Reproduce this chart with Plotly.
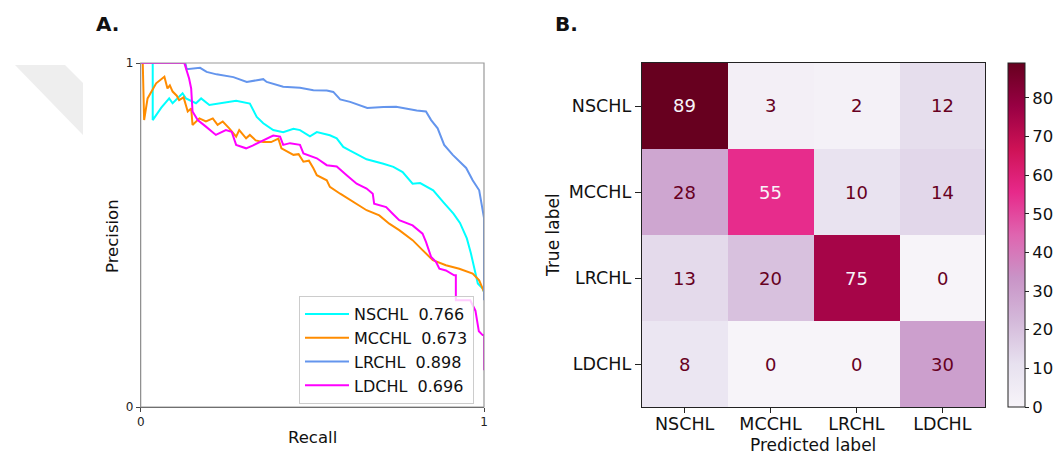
import plotly.graph_objects as go

# page body has an 8px margin; the figure is sized to the visible area
OFF = 8
W, H = 1061 - OFF, 453 - OFF

# ---------------- data ----------------
labels = ["NSCHL", "MCCHL", "LRCHL", "LDCHL"]
ap_scores = ["0.766", "0.673", "0.898", "0.696"]
line_colors = ["#00ffff", "#ff8c00", "#6495ed", "#ff00ff"]

nschl_recall = [0, 0.035, 0.035, 0.06, 0.083, 0.093, 0.122, 0.132, 0.161, 0.176, 0.2, 0.239, 0.278, 0.318,
                0.338, 0.357, 0.386, 0.415, 0.445, 0.464, 0.493, 0.513, 0.551, 0.571, 0.59, 0.61, 0.658,
                0.707, 0.736, 0.763, 0.792, 0.814, 0.852, 0.882, 0.911, 0.93, 0.95, 0.962, 0.972, 0.982,
                0.996, 1.0]
nschl_precision = [1, 1, 0.834, 0.87, 0.897, 0.883, 0.912, 0.897, 0.883, 0.897, 0.878, 0.883, 0.89, 0.882,
                   0.843, 0.825, 0.805, 0.799, 0.809, 0.805, 0.787, 0.799, 0.79, 0.781, 0.756, 0.745, 0.72,
                   0.707, 0.698, 0.683, 0.649, 0.651, 0.63, 0.595, 0.562, 0.535, 0.49, 0.446, 0.397, 0.359,
                   0.344, 0.335]

mcchl_recall = [0, 0.006, 0.01, 0.02, 0.045, 0.069, 0.078, 0.085, 0.093, 0.105, 0.112, 0.125, 0.137, 0.147,
                0.151, 0.171, 0.19, 0.21, 0.224, 0.239, 0.258, 0.278, 0.287, 0.307, 0.318, 0.335, 0.357,
                0.38, 0.401, 0.41, 0.445, 0.46, 0.474, 0.49, 0.503, 0.513, 0.542, 0.551, 0.581, 0.61,
                0.629, 0.658, 0.695, 0.724, 0.753, 0.792, 0.821, 0.851, 0.889, 0.928, 0.967, 0.986, 0.996,
                1.0]
mcchl_precision = [1, 1, 0.834, 0.897, 0.941, 0.96, 0.926, 0.935, 0.917, 0.905, 0.892, 0.9, 0.859, 0.868,
                   0.82, 0.839, 0.83, 0.839, 0.82, 0.83, 0.81, 0.786, 0.805, 0.781, 0.791, 0.775, 0.77,
                   0.77, 0.78, 0.752, 0.733, 0.735, 0.713, 0.716, 0.694, 0.674, 0.659, 0.64, 0.62, 0.601,
                   0.591, 0.572, 0.557, 0.533, 0.514, 0.485, 0.456, 0.427, 0.412, 0.402, 0.388, 0.368, 0.344,
                   0.335]

lrchl_recall = [0, 0.13, 0.134, 0.173, 0.192, 0.221, 0.27, 0.309, 0.357, 0.367, 0.415, 0.464, 0.503, 0.542,
                0.561, 0.581, 0.61, 0.648, 0.66, 0.707, 0.744, 0.804, 0.831, 0.846, 0.865, 0.884, 0.909,
                0.948, 0.967, 0.986, 0.993, 1.0, 1.0, 1.0]
lrchl_precision = [1, 1, 0.982, 0.986, 0.974, 0.967, 0.959, 0.945, 0.953, 0.945, 0.931, 0.928, 0.921, 0.92,
                   0.916, 0.894, 0.887, 0.873, 0.869, 0.872, 0.873, 0.862, 0.859, 0.834, 0.81, 0.762, 0.733,
                   0.695, 0.659, 0.63, 0.592, 0.55, 0.51, 0.31]

ldchl_recall = [0, 0.127, 0.141, 0.147, 0.151, 0.166, 0.19, 0.219, 0.248, 0.265, 0.278, 0.307, 0.326, 0.357,
                0.386, 0.406, 0.415, 0.435, 0.464, 0.474, 0.513, 0.542, 0.571, 0.6, 0.629, 0.658, 0.676,
                0.68, 0.715, 0.734, 0.753, 0.792, 0.821, 0.831, 0.846, 0.86, 0.87, 0.889, 0.913, 0.918,
                0.918, 0.96, 0.975, 0.985, 0.996, 1.0, 1.0]
ldchl_precision = [1, 1, 0.955, 0.926, 0.859, 0.834, 0.815, 0.791, 0.805, 0.8, 0.762, 0.752, 0.76, 0.776,
                   0.789, 0.786, 0.762, 0.767, 0.762, 0.737, 0.723, 0.703, 0.699, 0.674, 0.649, 0.635, 0.62,
                   0.591, 0.581, 0.562, 0.543, 0.528, 0.504, 0.48, 0.436, 0.422, 0.402, 0.397, 0.383, 0.383,
                   0.31, 0.31, 0.28, 0.22, 0.209, 0.209, 0.107]

recalls = [nschl_recall, mcchl_recall, lrchl_recall, ldchl_recall]
precisions = [nschl_precision, mcchl_precision, lrchl_precision, ldchl_precision]

cm_true = ["NSCHL", "MCCHL", "LRCHL", "LDCHL"]
cm_pred = ["NSCHL", "MCCHL", "LRCHL", "LDCHL"]
cm_values = [[89, 3, 2, 12],
             [28, 55, 10, 14],
             [13, 20, 75, 0],
             [8, 0, 0, 30]]
cbar_ticks = [0, 10, 20, 30, 40, 50, 60, 70, 80]

# ---------------- geometry helpers (reference-pixel -> paper) ----------------
def px(x):
    return (x - OFF) / W

def py(y):
    return 1 - (y - OFF) / H

FONT = "DejaVu Sans"
L_X0, L_X1 = 140.7, 484.0
R_X0, R_X1 = 641.7, 985.3
Y_TOP, Y_BOT = 63.0, 407.0

fig = go.Figure()

for name, score, col, rx, pr in zip(labels, ap_scores, line_colors, recalls, precisions):
    fig.add_trace(go.Scatter(
        x=rx, y=pr, mode="lines", name=f"{name}\u00a0\u00a0{score}",
        line=dict(color=col, width=2), xaxis="x", yaxis="y", cliponaxis=True))

pucolors = ['rgb(247,244,249)', 'rgb(231,225,239)', 'rgb(212,185,218)', 'rgb(201,148,199)',
            'rgb(223,101,176)', 'rgb(231,41,138)', 'rgb(206,18,86)', 'rgb(152,0,67)', 'rgb(103,0,31)']
cscale = [[i / (len(pucolors) - 1), c] for i, c in enumerate(pucolors)]

zmax = max(max(r) for r in cm_values)
fig.add_trace(go.Heatmap(
    z=cm_values, x=cm_pred, y=cm_true, xaxis="x2", yaxis="y2",
    colorscale=cscale, zmin=0, zmax=zmax, showscale=True, hoverinfo="skip",
    colorbar=dict(
        x=px(1007.8), xanchor="left", xpad=0, ypad=0,
        y=py(Y_BOT), yanchor="bottom", len=(Y_BOT - Y_TOP) / H, lenmode="fraction",
        thickness=17.4, thicknessmode="pixels",
        outlinewidth=1, outlinecolor="#222",
        tickvals=cbar_ticks, ticks="outside", ticklen=4, tickcolor="#222",
        tickfont=dict(family=FONT, size=16.5, color="#111")),
))

annotations = []
thresh = zmax / 2
for i, row in enumerate(cm_values):
    for j, v in enumerate(row):
        annotations.append(dict(
            x=cm_pred[j], y=cm_true[i], xref="x2", yref="y2", text=str(v), showarrow=False,
            font=dict(family=FONT, size=18, color="#f7f4f9" if v > thresh else "#67001f")))

def label(text, x, y, size=16, angle=0, bold=False):
    annotations.append(dict(
        text=f"<b>{text}</b>" if bold else text, x=px(x), y=py(y), xref="paper", yref="paper",
        showarrow=False, textangle=angle, xanchor="center", yanchor="middle",
        font=dict(family=FONT, size=size, color="#111")))

label("A.", 107, 24, size=20, bold=True)
label("B.", 566, 24, size=20, bold=True)
label("Recall", 312, 437, size=16.5)
label("Precision", 113, 236, size=16.5, angle=-90)
label("Predicted label", 813, 444.5, size=17)
label("True label", 553, 235, size=17, angle=-90)

axis_common = dict(showgrid=False, zeroline=False)

fig.update_layout(
    width=W, height=H,
    margin=dict(l=0, r=0, t=0, b=0, pad=0, autoexpand=False),
    paper_bgcolor="white", plot_bgcolor="white",
    font=dict(family=FONT, color="#111"),
    showlegend=True,
    legend=dict(x=px(299), y=py(296), xanchor="left", yanchor="top", itemwidth=44,
                bgcolor="rgba(255,255,255,0.8)", bordercolor="#cccccc", borderwidth=1,
                font=dict(family=FONT, size=16, color="#111"), tracegroupgap=0),
    xaxis=dict(domain=[px(L_X0), px(L_X1)], range=[0, 1], tickvals=[0, 1], ticktext=["0", "1"],
               ticks="outside", ticklen=4, tickcolor="#444", showline=True, linecolor="#444",
               tickfont=dict(family=FONT, size=12, color="#222"), anchor="y", **axis_common),
    yaxis=dict(domain=[py(Y_BOT), py(Y_TOP)], range=[0, 1], tickvals=[0, 1], ticktext=["0", "1"],
               ticks="outside", ticklen=4, tickcolor="#444", showline=True, linecolor="#444",
               tickfont=dict(family=FONT, size=12, color="#222"), anchor="x", **axis_common),
    xaxis2=dict(domain=[px(R_X0), px(R_X1)], range=[-0.5, 3.5], type="category",
                ticks="outside", ticklen=5, tickcolor="#222", showline=True, linecolor="#222",
                mirror=True, tickfont=dict(family=FONT, size=17.5, color="#111"), anchor="y2",
                ticklabelstandoff=-4, **axis_common),
    yaxis2=dict(domain=[py(Y_BOT), py(Y_TOP)], range=[3.5, -0.5], type="category",
                ticks="outside", ticklen=6, tickcolor="#222", showline=True, linecolor="#222",
                mirror=True, tickfont=dict(family=FONT, size=17.5, color="#111"), anchor="x2",
                **axis_common),
    annotations=annotations,
    shapes=[
        dict(type="rect", xref="x domain", yref="y domain", x0=0, x1=1, y0=0, y1=1,
             line=dict(color="#999999", width=1.2), layer="above"),
        dict(type="path", xref="paper", yref="paper",
             path=f"M {px(15)},{py(65)} L {px(65)},{py(65)} L {px(83)},{py(83)} "
                  f"L {px(83)},{py(135)} Z",
             fillcolor="#eeeeee", line=dict(width=0), layer="below"),
    ],
)

fig.write_html(
    "out.html",
    post_script="document.documentElement.style.overflow='hidden';"
                "document.body.style.overflow='hidden';",
)
